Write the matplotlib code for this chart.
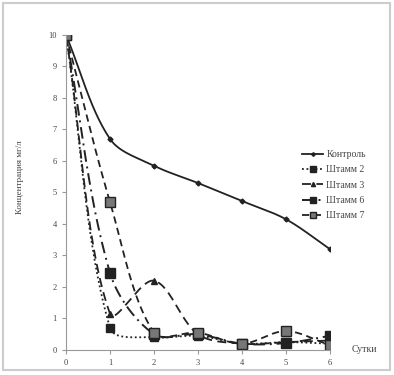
import numpy as np
import matplotlib
matplotlib.use("Agg")
import matplotlib.pyplot as plt
from matplotlib.lines import Line2D

# --- данные ---
days = [0, 1, 2, 3, 4, 5, 6]
kontrol = [10, 6.7, 5.85, 5.3, 4.73, 4.15, 3.2]
shtamm2 = [10, 0.7, 0.4, 0.45, 0.2, 0.25, 0.2]
shtamm3 = [10, 1.15, 2.2, 0.5, 0.2, 0.25, 0.3]
shtamm6 = [10, 2.45, 0.5, 0.5, 0.2, 0.22, 0.45]
shtamm7 = [10, 4.7, 0.55, 0.55, 0.2, 0.6, 0.15]
labels = ["Контроль", "Штамм 2", "Штамм 3", "Штамм 6", "Штамм 7"]

plt.rcParams["font.family"] = ["Liberation Serif", "DejaVu Serif"]

# масштаб осей в пикселях (для сглаживания по длине хорд)
SX, SY = 44.0, 31.5


def smooth(x, y, n=30):
    # сглаживание примерно как в Excel: кривые Безье, касательные по хордам
    p = np.column_stack([np.asarray(x, float) * SX, np.asarray(y, float) * SY])
    m = len(p)
    pts = []
    t = np.linspace(0, 1, n)[:, None]
    for i in range(m - 1):
        a, b = p[i], p[i + 1]
        pa = p[i - 1] if i > 0 else a
        nb = p[i + 2] if i + 2 < m else b
        d0 = np.hypot(*(a - pa))
        d1 = np.hypot(*(b - a))
        d2 = np.hypot(*(nb - b))
        c1 = a + (b - pa) * d1 / (d0 + d1) / 3
        c2 = b - (nb - a) * d1 / (d1 + d2) / 3
        seg = ((1 - t) ** 3 * a + 3 * (1 - t) ** 2 * t * c1
               + 3 * (1 - t) * t ** 2 * c2 + t ** 3 * b)
        pts.append(seg)
    pts = np.vstack(pts)
    return pts[:, 0] / SX, pts[:, 1] / SY


fig = plt.figure(figsize=(3.94, 3.75), dpi=100)
ax = fig.add_axes([0.1675, 0.0667, 0.67, 0.84])

series = [kontrol, shtamm2, shtamm3, shtamm6, shtamm7]
styles = [
    dict(ls="-", lw=1.3, marker="D", ms=2.5, mfc="#222", mec="#222"),
    dict(ls=(0, (1, 1.5)), lw=1.3, marker="s", ms=5.5, mfc="#222", mec="#222"),
    dict(ls=(0, (5, 3)), lw=1.3, marker="^", ms=4, mfc="#222", mec="#222"),
    dict(ls=(0, (6, 2.5, 1, 2.5)), lw=1.4, marker="s", ms=6.5, mfc="#222", mec="#222"),
    dict(ls=(0, (4, 2.5)), lw=1.3, marker="s", ms=6.5, mfc="#777", mec="#222"),
]

handles = []
for vals, st in zip(series, styles):
    sx, sy = smooth(days, vals)
    ax.plot(sx, sy, color="#222", ls=st["ls"], lw=st["lw"])
    ax.plot(days, vals, ls="none", marker=st["marker"], ms=st["ms"],
            mfc=st["mfc"], mec=st["mec"])
    handles.append(Line2D([], [], color="#222", ls=st["ls"], lw=st["lw"],
                          marker=st["marker"], ms=st["ms"] * 0.75,
                          mfc=st["mfc"], mec=st["mec"]))

ax.set_xlim(0, 6)
ax.set_ylim(0, 10)
ax.set_xticks(days)
ax.set_yticks(range(0, 11))
for s in ("top", "right"):
    ax.spines[s].set_visible(False)
for s in ("left", "bottom"):
    ax.spines[s].set_color("#999")
ax.tick_params(labelsize=6, colors="#999", labelcolor="#444", length=3, width=0.8)
ax.set_ylabel("Концентрация мг/л", fontsize=6.5, color="#444")
ax.yaxis.set_label_coords(-0.16, 0.55)
ax.text(6.5, 0, "Сутки", fontsize=7, color="#444", va="center", ha="left")

ax.legend(handles, labels, loc="upper left",
          bbox_to_anchor=(302 / 394, 1 - 150 / 375), bbox_transform=fig.transFigure,
          frameon=False, fontsize=7, handlelength=2.2, labelspacing=0.65,
          handletextpad=0.3, borderaxespad=0, borderpad=0, labelcolor="#444")

fig.patches.append(plt.Rectangle((0.008, 0.013), 0.982, 0.978, fill=False,
                                 edgecolor="#ccc", lw=1.5,
                                 transform=fig.transFigure))
fig.savefig("out.png", dpi=100)
